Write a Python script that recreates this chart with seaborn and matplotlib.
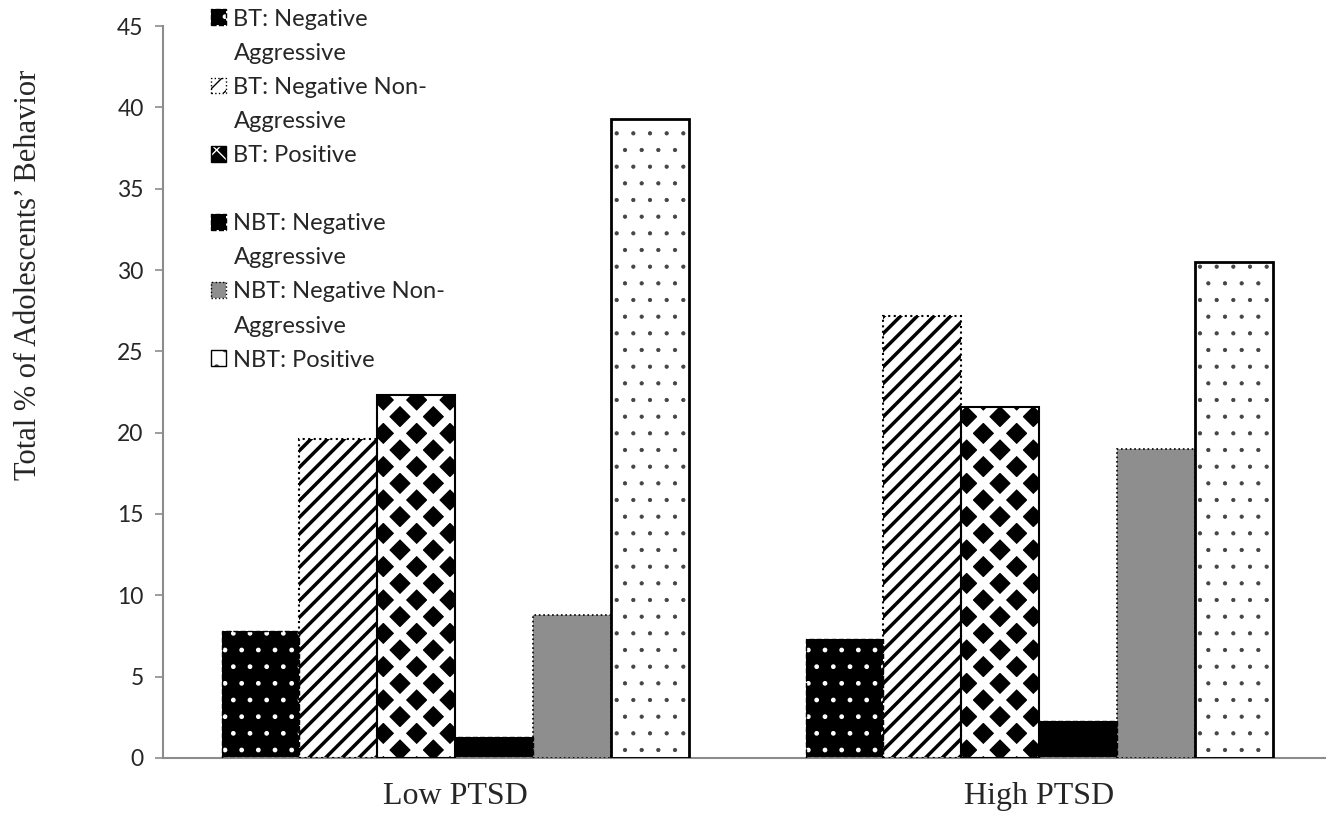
import matplotlib
matplotlib.use('Agg')
import matplotlib.pyplot as plt
from matplotlib.patches import Patch, Rectangle
from matplotlib.legend_handler import HandlerTuple
import seaborn as sns
import pandas as pd

groups = ['Low PTSD', 'High PTSD']
categories = ['BT: Negative Aggressive', 'BT: Negative Non-Aggressive', 'BT: Positive',
              'NBT: Negative Aggressive', 'NBT: Negative Non-Aggressive', 'NBT: Positive']
low_ptsd = [7.8, 19.6, 22.3, 1.3, 8.8, 39.3]
high_ptsd = [7.3, 27.2, 21.6, 2.3, 19.0, 30.5]
legend_lines = [['BT: Negative', 'Aggressive'], ['BT: Negative Non-', 'Aggressive'], ['BT: Positive'],
                ['NBT: Negative', 'Aggressive'], ['NBT: Negative Non-', 'Aggressive'], ['NBT: Positive']]

df = pd.DataFrame({
    'group': [g for g in groups for _ in categories],
    'category': categories * 2,
    'value': low_ptsd + high_ptsd,
})

# one look per category: face, hatch, hatch colour, hatch lw, outline colour/style/width
styles = [
    dict(fc='black', hatch='.', hc='white', hlw=1.0, oc='black', ols='--', olw=1.0),
    dict(fc='white', hatch='//', hc='black', hlw=2.5, oc='black', ols=':', olw=1.5),
    dict(fc='black', hatch='x', hc='white', hlw=6.0, oc='black', ols='-', olw=1.5),
    dict(fc='black', hatch='', hc='black', hlw=1.0, oc='black', ols='--', olw=1.0),
    dict(fc='#8e8e8e', hatch='', hc='#8e8e8e', hlw=1.0, oc='black', ols=':', olw=1.2),
    dict(fc='white', hatch='.', hc='#444444', hlw=0.6, oc='black', ols='-', olw=2.0),
]

sns.set_style('white')
fig = plt.figure(figsize=(13.26, 8.15), dpi=100)
ax = fig.add_axes([0.123, 0.070, 0.881, 0.898])

sns.barplot(data=df, x='group', y='value', hue='category', hue_order=categories,
            order=groups, width=0.8, legend=False, ax=ax, saturation=1)


def style_bar(bar, st):
    bar.set_facecolor(st['fc'])
    bar.set_edgecolor(st['hc'])
    bar.set_hatch(st['hatch'])
    bar.set_linewidth(0)
    if hasattr(bar, 'set_hatch_linewidth'):
        bar.set_hatch_linewidth(st['hlw'])


for cont, st in zip(ax.containers, styles):
    for bar in cont:
        style_bar(bar, st)
        ax.add_patch(Rectangle((bar.get_x(), bar.get_y()), bar.get_width(), bar.get_height(),
                               fill=False, edgecolor=st['oc'], linestyle=st['ols'],
                               linewidth=st['olw'], zorder=3))

ax.set_xlim(-0.5, 1.5)
ax.set_ylim(0, 45)
ax.set_yticks(range(0, 50, 5))
ax.set_xlabel('')
ax.set_ylabel('Total % of Adolescents\u2019 Behavior', family='Liberation Serif', fontsize=22)
ax.yaxis.set_label_coords(-0.103, 0.66)

for s in ['top', 'right']:
    ax.spines[s].set_visible(False)
for s in ['left', 'bottom']:
    ax.spines[s].set_color('#8c8c8c')
    ax.spines[s].set_linewidth(1.5)

ax.tick_params(axis='y', which='both', left=True, length=6, width=1.2, color='#8c8c8c',
               labelsize=16.5, pad=8)
ax.tick_params(axis='x', bottom=False, pad=14)
for lab in ax.get_yticklabels():
    lab.set_family('Lato')
for lab in ax.get_xticklabels():
    lab.set_family('Liberation Serif')
    lab.set_fontsize(23)

# legend: one row per text line, handle only on the first line, blank row between BT and NBT
handles, labels = [], []
blank = Patch(facecolor='none', edgecolor='none')
for i, (st, lines) in enumerate(zip(styles, legend_lines)):
    fill = Patch(facecolor=st['fc'], edgecolor=st['hc'], hatch=st['hatch'], linewidth=0)
    edge = Patch(facecolor='none', edgecolor=st['oc'], linestyle=st['ols'], linewidth=1.0)
    handles.append((fill, edge))
    labels.append(lines[0])
    for extra in lines[1:]:
        handles.append(blank)
        labels.append(extra)
    if i == 2:
        handles.append(blank)
        labels.append(' ')

leg = fig.legend(handles, labels, loc='upper left', bbox_to_anchor=(0.152, 1.001),
                 frameon=False, prop={'family': 'Lato', 'size': 17},
                 handlelength=0.65, handleheight=0.65, handletextpad=0.3,
                 labelspacing=0.555, borderaxespad=0,
                 handler_map={tuple: HandlerTuple(ndivide=1, pad=0)})

fig.savefig('out.png', dpi=100)
